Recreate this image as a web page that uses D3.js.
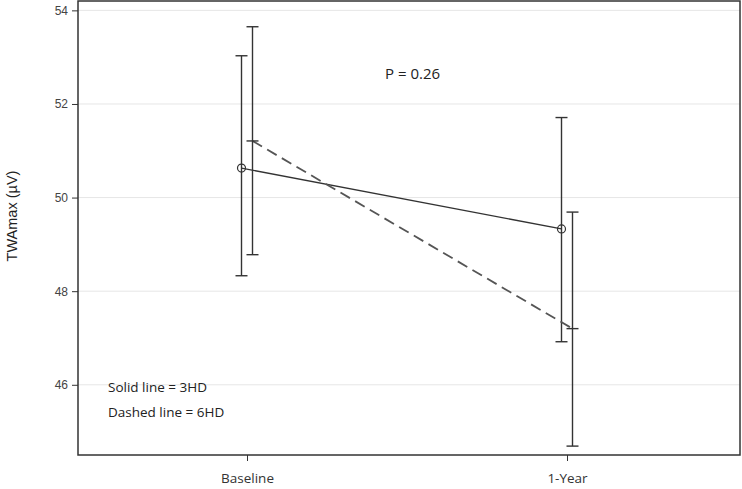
<!DOCTYPE html>
<html>
<head>
<meta charset="utf-8">
<style>
  body { margin: 0; background: #fff; font-family: "Open Sans", "Liberation Sans", sans-serif; }
</style>
<script src="https://d3js.org/d3.v7.min.js"></script>
</head>
<body>
<script>
// data
var times = ["Baseline", "1-Year"];
var groups = ["3HD", "6HD"];
var mean3 = [50.63, 49.33];
var upper3 = [53.03, 51.71];
var lower3 = [48.33, 46.92];
var mean6 = [51.21, 47.20];
var upper6 = [53.65, 49.69];
var lower6 = [48.78, 44.69];
var yTicks = [46, 48, 50, 52, 54];

var width = 742, height = 489;
var plotLeft = 78, plotRight = 740, plotTop = 1, plotBottom = 455;

var svg = d3.select("body").append("svg")
    .attr("width", width)
    .attr("height", height);

var x = d3.scalePoint().domain(times).range([247, 567]);
var y = d3.scaleLinear().domain([44.5, 54.2]).range([plotBottom, plotTop]);
var offset = { "3HD": -5.5, "6HD": 5.5 };

// gridlines
svg.append("g").selectAll("line")
    .data(yTicks).enter().append("line")
    .attr("x1", plotLeft).attr("x2", plotRight)
    .attr("y1", function(d) { return y(d); })
    .attr("y2", function(d) { return y(d); })
    .attr("stroke", "#e6e6e6")
    .attr("stroke-width", 1);

// y axis
var yAxis = svg.append("g")
    .attr("transform", "translate(" + plotLeft + ",0)")
    .call(d3.axisLeft(y).tickValues(yTicks).tickSize(6).tickPadding(4));
yAxis.select(".domain").remove();
yAxis.selectAll("line").attr("stroke", "#333");
yAxis.selectAll("text").attr("fill", "#444").style("font-size", "12px")
    .style("font-family", "'Liberation Sans Narrow', 'Liberation Sans', sans-serif");

// x axis
var xAxis = svg.append("g")
    .attr("transform", "translate(0," + plotBottom + ")")
    .call(d3.axisBottom(x).tickSize(6).tickPadding(12));
xAxis.select(".domain").remove();
xAxis.selectAll("line").attr("stroke", "#333");
xAxis.selectAll("text").attr("fill", "#333").style("font-size", "13.5px")
    .style("font-family", "'Open Sans', sans-serif");

// frame
svg.append("rect")
    .attr("x", plotLeft).attr("y", plotTop)
    .attr("width", plotRight - plotLeft).attr("height", plotBottom - plotTop)
    .attr("fill", "none")
    .attr("stroke", "#333")
    .attr("stroke-width", 1.5);

// y title
svg.append("text")
    .attr("transform", "translate(17,216) rotate(-90)")
    .attr("text-anchor", "middle")
    .style("font-size", "14.5px")
    .style("font-family", "'Liberation Sans', Arial, sans-serif")
    .attr("fill", "#222")
    .text("TWAmax (\u00b5V)");

function series(key, mean, upper, lower, dashed) {
  var pts = times.map(function(t, i) {
    return { x: x(t) + offset[key], m: mean[i], u: upper[i], l: lower[i] };
  });
  var g = svg.append("g");
  g.append("path")
    .datum(pts)
    .attr("d", d3.line().x(function(d) { return d.x; }).y(function(d) { return y(d.m); }))
    .attr("fill", "none")
    .attr("stroke", dashed ? "#555" : "#333")
    .attr("stroke-width", dashed ? 1.8 : 1.4)
    .attr("stroke-dasharray", dashed ? "11,6" : null);
  var eb = g.selectAll(".eb").data(pts).enter().append("g");
  eb.append("line")
    .attr("x1", function(d) { return d.x; }).attr("x2", function(d) { return d.x; })
    .attr("y1", function(d) { return y(d.u); }).attr("y2", function(d) { return y(d.l); })
    .attr("stroke", "#333").attr("stroke-width", 1.4);
  ["u", "l"].forEach(function(k) {
    eb.append("line")
      .attr("x1", function(d) { return d.x - 6; }).attr("x2", function(d) { return d.x + 6; })
      .attr("y1", function(d) { return y(d[k]); }).attr("y2", function(d) { return y(d[k]); })
      .attr("stroke", "#333").attr("stroke-width", 1.4);
  });
  if (dashed) {
    eb.append("line")
      .attr("x1", function(d) { return d.x - 6; }).attr("x2", function(d) { return d.x + 6; })
      .attr("y1", function(d) { return y(d.m); }).attr("y2", function(d) { return y(d.m); })
      .attr("stroke", "#333").attr("stroke-width", 1.4);
  } else {
    eb.append("circle")
      .attr("cx", function(d) { return d.x; })
      .attr("cy", function(d) { return y(d.m); })
      .attr("r", 4)
      .attr("fill", "none")
      .attr("stroke", "#333")
      .attr("stroke-width", 1.2);
  }
}
series("3HD", mean3, upper3, lower3, false);
series("6HD", mean6, upper6, lower6, true);

// annotations
svg.append("text").attr("x", 385).attr("y", 79)
    .style("font-size", "15px").attr("fill", "#222").text("P = 0.26");
svg.append("text").attr("x", 108).attr("y", 392)
    .style("font-size", "13.5px").attr("fill", "#222").text("Solid line = 3HD");
svg.append("text").attr("x", 108).attr("y", 417)
    .style("font-size", "13.5px").attr("fill", "#222").text("Dashed line = 6HD");
</script>
</body>
</html>
